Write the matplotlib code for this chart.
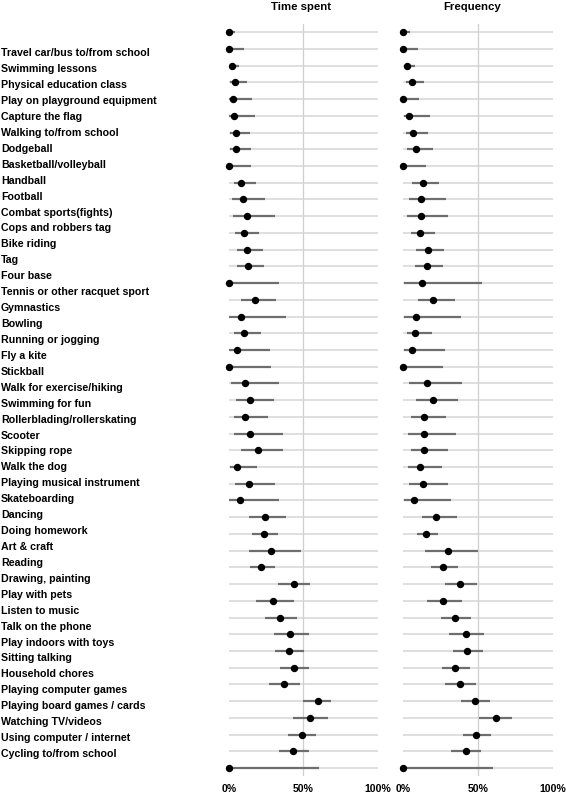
import matplotlib
matplotlib.use("Agg")
import matplotlib.pyplot as plt
import numpy as np

plt.rcParams["font.family"] = ["Liberation Sans", "DejaVu Sans"]

activities = [
    "Travel car/bus to/from school", "Swimming lessons", "Physical education class",
    "Play on playground equipment", "Capture the flag", "Walking to/from school",
    "Dodgeball", "Basketball/volleyball", "Handball", "Football",
    "Combat sports(fights)", "Cops and robbers tag", "Bike riding", "Tag",
    "Four base", "Tennis or other racquet sport", "Gymnastics", "Bowling",
    "Running or jogging", "Fly a kite", "Stickball", "Walk for exercise/hiking",
    "Swimming for fun", "Rollerblading/rollerskating", "Scooter", "Skipping rope",
    "Walk the dog", "Playing musical instrument", "Skateboarding", "Dancing",
    "Doing homework", "Art & craft", "Reading", "Drawing, painting",
    "Play with pets", "Listen to music", "Talk on the phone",
    "Play indoors with toys", "Sitting talking", "Household chores",
    "Playing computer games", "Playing board games / cards", "Watching TV/videos",
    "Using computer / internet", "Cycling to/from school",
]

# time spent: estimate, lower and upper bound (%)
time_pt = [0, 0, 2.2, 4.5, 3, 3.8, 5, 4.7, 0, 8.5, 9.4, 12, 10.3, 12.5, 12.7,
           0, 17.9, 8.5, 10, 5.6, 0, 10.7, 14.5, 11.2, 14.5, 19.4, 5.6, 13.4,
           7.4, 24.6, 23.4, 28.6, 21.9, 43.5, 29.7, 34.6, 41.3, 40.6, 44, 36.8,
           59.6, 54.7, 49.1, 43.3, 0]
time_lo = [0, 0, 1, 1, 0.5, 0.5, 1, 1, 0, 3.3, 2.2, 3, 4.5, 5.6, 5.6,
           0, 8.3, 0.5, 3.6, 0.5, 0, 1.6, 4.9, 3.3, 3.3, 8.5, 1, 4,
           0.5, 13.8, 15.8, 13.4, 14.3, 33, 18.1, 24.6, 30.1, 30.8, 34.6, 27,
           49.8, 42.9, 39.7, 33.5, 0]
time_hi = [4.5, 10, 6.7, 12, 15.6, 17.9, 14, 15, 15, 18.5, 24.5, 31, 20, 23, 23.4,
           34, 32, 38.6, 21.7, 27.5, 28.6, 33.5, 30.4, 26.3, 36.4, 36.2, 18.8, 30.8,
           34, 38.4, 32.8, 48.7, 30.8, 54.7, 43.8, 45.8, 53.6, 50.7, 54, 47.8,
           68.8, 66.5, 58.7, 54, 60.3]

# frequency: estimate, lower and upper bound (%)
freq_pt = [0, 0, 2.7, 5.6, 0, 3.6, 6.7, 8.4, 0, 13.3, 12, 11.6, 11.1, 16.2, 15.8,
           12.4, 20.2, 8.7, 8, 5.6, 0, 15.8, 20.2, 13.8, 13.8, 14, 11.1, 13.1,
           6.9, 22.2, 15.1, 29.6, 26.9, 38, 26.4, 34.4, 42, 42.9, 34.4, 37.8,
           48, 62, 48.9, 41.8, 0]
freq_lo = [0, 0, 1.3, 1.8, 0, 0.4, 2, 2.4, 0, 5.8, 3.6, 2.7, 5.1, 8.4, 7.8,
           0.4, 9.8, 0.4, 2.4, 0.4, 0, 3.6, 8.7, 4.9, 3.3, 4.9, 3.3, 4,
           0.4, 12.2, 9.1, 14.2, 18.7, 28, 15.8, 24.9, 30.7, 33.3, 25.8, 28,
           38.9, 50.4, 39.8, 32.2, 0]
freq_hi = [4.4, 10, 7.8, 13.8, 10.4, 18, 16.2, 20, 15.1, 24.2, 28.4, 30.2, 21.1, 27.3, 26.9,
           52.4, 34.7, 38.7, 18.9, 27.6, 26.7, 39.6, 36.9, 28.9, 35.1, 29.6, 26.2, 30,
           32, 35.8, 23.3, 50, 36.4, 49.1, 39.6, 45.1, 54, 53.3, 44.4, 48.4,
           57.8, 72.9, 58.7, 52.2, 60]

W, H = 566, 800
n = len(activities)
rows = np.arange(n)

fig = plt.figure(figsize=(W / 100, H / 100), dpi=100)


def px_axes(left, top, right, bottom):
    return fig.add_axes([left / W, 1 - bottom / H, (right - left) / W, (bottom - top) / H])


def draw_panel(ax, pt, lo, hi):
    ax.hlines(rows, 0, 100, color="#d6d6d6", lw=1.1, zorder=1)
    ax.axvline(50, color="#cfcfcf", lw=0.9, zorder=0)
    ax.hlines(rows, lo, hi, color="#6e6e6e", lw=1.6, zorder=2)
    ax.plot(pt, rows, "o", color="black", ms=4.3, zorder=3, clip_on=False)
    ax.set_xlim(0, 100)
    ax.set_ylim(n - 0.5, -0.5)
    ax.set_yticks([])
    ax.set_xticks([0, 50, 100])
    ax.set_xticklabels(["0%", "50%", "100%"], fontsize=7.6, fontweight="bold",
                       family=["Liberation Sans Narrow", "Liberation Sans"])
    ax.tick_params(axis="x", length=0, pad=5.5)
    for s in ax.spines.values():
        s.set_visible(False)


ax_time = px_axes(228.7, 23.9, 378.0, 776.4)
draw_panel(ax_time, time_pt, time_lo, time_hi)

ax_freq = px_axes(403.3, 23.9, 552.7, 776.4)
draw_panel(ax_freq, freq_pt, freq_lo, freq_hi)

fig.text(301 / W, 1 - 6.5 / H, "Time spent", ha="center", va="center",
         fontsize=8.2, fontweight="bold")
fig.text(472 / W, 1 - 7 / H, "Frequency", ha="center", va="center",
         fontsize=8.2, fontweight="bold")

# activity names sit on their own, slightly tighter, row spacing
ax_lab = px_axes(0, 45.3, 228, 762.0)
ax_lab.set_xlim(0, 1)
ax_lab.set_ylim(n - 0.5, -0.5)
ax_lab.axis("off")
for i, name in enumerate(activities):
    ax_lab.text(0.004, i, name, ha="left", va="center", fontsize=7.7, fontweight="bold")

fig.savefig("out.png", dpi=100)
